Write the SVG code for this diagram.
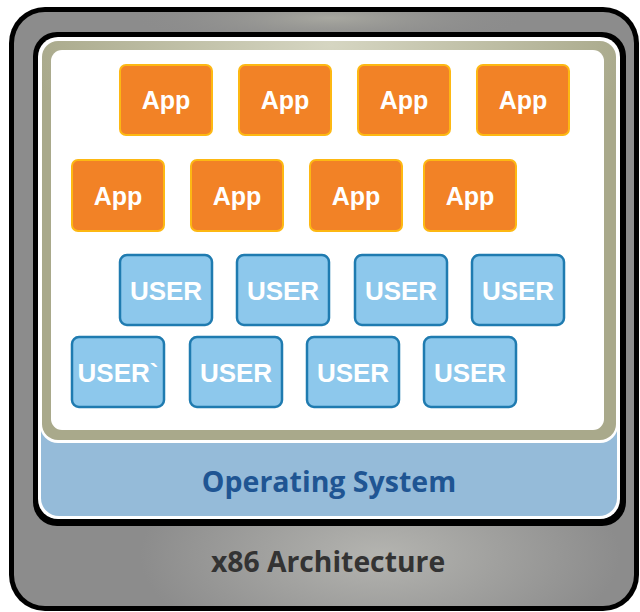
<svg xmlns="http://www.w3.org/2000/svg" width="640" height="612" viewBox="0 0 640 612">
<defs>
<radialGradient id="gBot" gradientUnits="userSpaceOnUse" cx="380" cy="555" r="240" gradientTransform="translate(380 555) scale(1 0.45) translate(-380 -555)">
<stop offset="0" stop-color="#b4b4b0"/>
<stop offset="1" stop-color="#8c8c8c"/>
</radialGradient>
<radialGradient id="gTop" gradientUnits="userSpaceOnUse" cx="330" cy="18" r="200" gradientTransform="translate(330 18) scale(1 0.15) translate(-330 -18)">
<stop offset="0" stop-color="#a8a8a0"/>
<stop offset="1" stop-color="#8c8c8c" stop-opacity="0"/>
</radialGradient>
<radialGradient id="gOl" gradientUnits="userSpaceOnUse" cx="330" cy="45" r="300" gradientTransform="translate(330 45) scale(1 0.5) translate(-330 -45)">
<stop offset="0" stop-color="#d6d6c2"/>
<stop offset="1" stop-color="#a9a98b"/>
</radialGradient>
<style>
.app rect{fill:#f28226;stroke:#fdb813;stroke-width:2}
.usr rect{fill:#8dc8ec;stroke:#1f7bb0;stroke-width:2.5}
.lbl{font-family:"Liberation Sans",Arial,sans-serif;font-weight:bold;font-size:25px;fill:#ffffff;text-anchor:middle}
.usr .lbl{font-size:26px}
</style>
</defs>
<g id="hardware">
<rect x="9" y="7" width="630" height="604" rx="36" fill="#000"/>
<rect x="14" y="12" width="620" height="594" rx="31" fill="url(#gBot)"/>
<rect x="14" y="12" width="620" height="120" rx="31" fill="url(#gTop)"/>
<text x="328" y="572" font-family="'Open Sans',sans-serif" font-weight="bold" font-size="28.3" fill="#333333" text-anchor="middle">x86 Architecture</text>
</g>
<g id="os">
<rect x="33" y="32" width="593" height="494" rx="24" fill="#000"/>
<rect x="38" y="37" width="582" height="482" rx="20" fill="#fff"/>
<rect x="41" y="40" width="576" height="476" rx="18" fill="#95bbd9"/>
<text x="329" y="492" font-family="'Open Sans',sans-serif" font-weight="bold" font-size="28.5" fill="#1f5593" text-anchor="middle">Operating System</text>
</g>
<g id="apps-area">
<rect x="40" y="39" width="578" height="404" rx="18" fill="#fff"/>
<rect x="42" y="41" width="574" height="399" rx="16" fill="url(#gOl)"/>
<rect x="51" y="50" width="553" height="380" rx="11" fill="#fff"/>
</g>
<g id="app1" class="app"><rect x="120" y="65" width="92" height="70" rx="6"/><text class="lbl" x="166" y="109">App</text></g>
<g id="app2" class="app"><rect x="239" y="65" width="92" height="70" rx="6"/><text class="lbl" x="285" y="109">App</text></g>
<g id="app3" class="app"><rect x="358" y="65" width="92" height="70" rx="6"/><text class="lbl" x="404" y="109">App</text></g>
<g id="app4" class="app"><rect x="477" y="65" width="92" height="70" rx="6"/><text class="lbl" x="523" y="109">App</text></g>
<g id="app5" class="app"><rect x="72" y="160" width="92" height="71" rx="6"/><text class="lbl" x="118" y="205">App</text></g>
<g id="app6" class="app"><rect x="191" y="160" width="92" height="71" rx="6"/><text class="lbl" x="237" y="205">App</text></g>
<g id="app7" class="app"><rect x="310" y="160" width="92" height="71" rx="6"/><text class="lbl" x="356" y="205">App</text></g>
<g id="app8" class="app"><rect x="424" y="160" width="92" height="71" rx="6"/><text class="lbl" x="470" y="205">App</text></g>
<g id="user1" class="usr"><rect x="120" y="255" width="92" height="70" rx="7"/><text class="lbl" x="166" y="300">USER</text></g>
<g id="user2" class="usr"><rect x="237" y="255" width="92" height="70" rx="7"/><text class="lbl" x="283" y="300">USER</text></g>
<g id="user3" class="usr"><rect x="355" y="255" width="92" height="70" rx="7"/><text class="lbl" x="401" y="300">USER</text></g>
<g id="user4" class="usr"><rect x="472" y="255" width="92" height="70" rx="7"/><text class="lbl" x="518" y="300">USER</text></g>
<g id="user5" class="usr"><rect x="72" y="337" width="92" height="70" rx="7"/><text class="lbl" x="118" y="382">USER`</text></g>
<g id="user6" class="usr"><rect x="190" y="337" width="92" height="70" rx="7"/><text class="lbl" x="236" y="382">USER</text></g>
<g id="user7" class="usr"><rect x="307" y="337" width="92" height="70" rx="7"/><text class="lbl" x="353" y="382">USER</text></g>
<g id="user8" class="usr"><rect x="424" y="337" width="92" height="70" rx="7"/><text class="lbl" x="470" y="382">USER</text></g>
<g id="connectors"/>
</svg>
